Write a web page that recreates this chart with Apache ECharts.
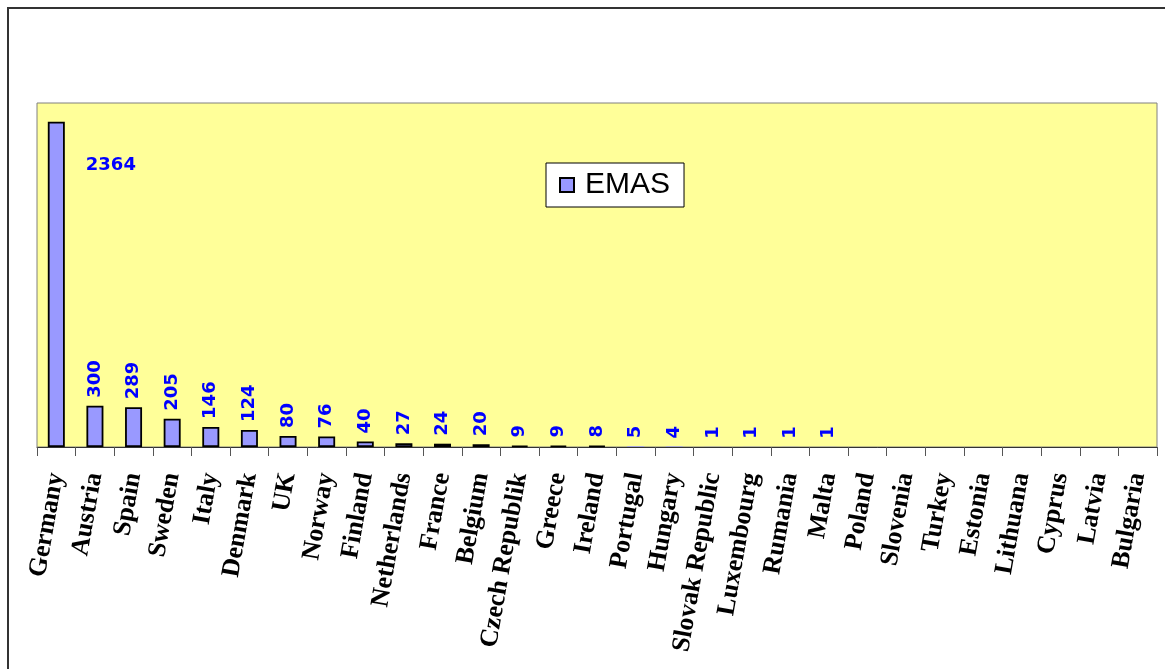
<!DOCTYPE html>
<html>
<head>
<meta charset="utf-8">
<script src="https://cdn.jsdelivr.net/npm/echarts@6/dist/echarts.min.js"></script>
<style>
  html, body { margin: 0; padding: 0; background: #ffffff; }
  #chart { width: 1165px; height: 669px; }
</style>
</head>
<body>
<div id="chart"></div>
<script>
// EMAS registered organisations per country
const countries = [
  'Germany', 'Austria', 'Spain', 'Sweden', 'Italy', 'Denmark', 'UK', 'Norway',
  'Finland', 'Netherlands', 'France', 'Belgium', 'Czech Republik', 'Greece',
  'Ireland', 'Portugal', 'Hungary', 'Slovak Republic', 'Luxembourg', 'Rumania',
  'Malta', 'Poland', 'Slovenia', 'Turkey', 'Estonia', 'Lithuana', 'Cyprus',
  'Latvia', 'Bulgaria'
];
const emasCounts = [
  2364, 300, 289, 205, 146, 124, 80, 76,
  40, 27, 24, 20, 9, 9,
  8, 5, 4, 1, 1, 1,
  1, 0, 0, 0, 0, 0, 0,
  0, 0
];
const seriesName = 'EMAS';
const yMax = 2500;

const barData = emasCounts.map((v, i) => {
  const item = { value: v };
  if (v === 0) {
    item.label = { show: false };
  }
  if (v < 6) {
    // sub-pixel bars: no outline
    item.itemStyle = { borderWidth: 0 };
  }
  if (i === 0) {
    // the tallest bar carries a horizontal label beside it
    item.label = {
      rotate: 0,
      position: [38, 44],
      align: 'left',
      verticalAlign: 'middle'
    };
  }
  return item;
});

const chart = echarts.init(document.getElementById('chart'), null, { renderer: 'canvas' });

chart.setOption({
  animation: false,
  backgroundColor: '#ffffff',
  graphic: [{
    type: 'rect',
    shape: { x: 8, y: 8, width: 1200, height: 700 },
    style: { fill: 'none', stroke: '#333333', lineWidth: 2 },
    silent: true,
    z: -1
  }],
  grid: {
    left: 37,
    right: 8,
    top: 103,
    bottom: 222,
    show: true,
    backgroundColor: '#ffff99',
    borderColor: '#808080',
    borderWidth: 1
  },
  legend: {
    data: [seriesName],
    left: 546,
    top: 163,
    orient: 'horizontal',
    backgroundColor: '#ffffff',
    borderColor: '#000000',
    borderWidth: 1,
    borderRadius: 0,
    padding: [7, 14, 7, 13],
    itemWidth: 14,
    itemHeight: 14,
    icon: 'rect',
    textStyle: {
      fontFamily: 'Liberation Sans, Arial, sans-serif',
      fontSize: 30,
      lineHeight: 29,
      color: '#000000',
      padding: [0, 0, 0, 6]
    }
  },
  xAxis: {
    type: 'category',
    data: countries,
    axisLine: { show: true, lineStyle: { color: '#333333', width: 1 } },
    axisTick: { show: true, length: 9, alignWithLabel: false, lineStyle: { color: '#555555' } },
    axisLabel: {
      interval: 0,
      rotate: 80,
      margin: 26,
      fontFamily: 'Liberation Serif, Times New Roman, serif',
      fontWeight: 'bold',
      fontSize: 26,
      color: '#000000'
    }
  },
  yAxis: {
    type: 'value',
    min: 0,
    max: yMax,
    show: false,
    splitLine: { show: false }
  },
  series: [{
    name: seriesName,
    type: 'bar',
    data: barData,
    barWidth: 17,
    itemStyle: {
      color: '#9999ff',
      borderColor: '#000000',
      borderWidth: 1.8
    },
    label: {
      show: true,
      position: 'top',
      distance: 8,
      rotate: 90,
      align: 'left',
      verticalAlign: 'middle',
      fontFamily: 'DejaVu Sans, Verdana, sans-serif',
      fontWeight: 'bold',
      fontSize: 18,
      color: '#0000ff'
    }
  }]
});
</script>
</body>
</html>
